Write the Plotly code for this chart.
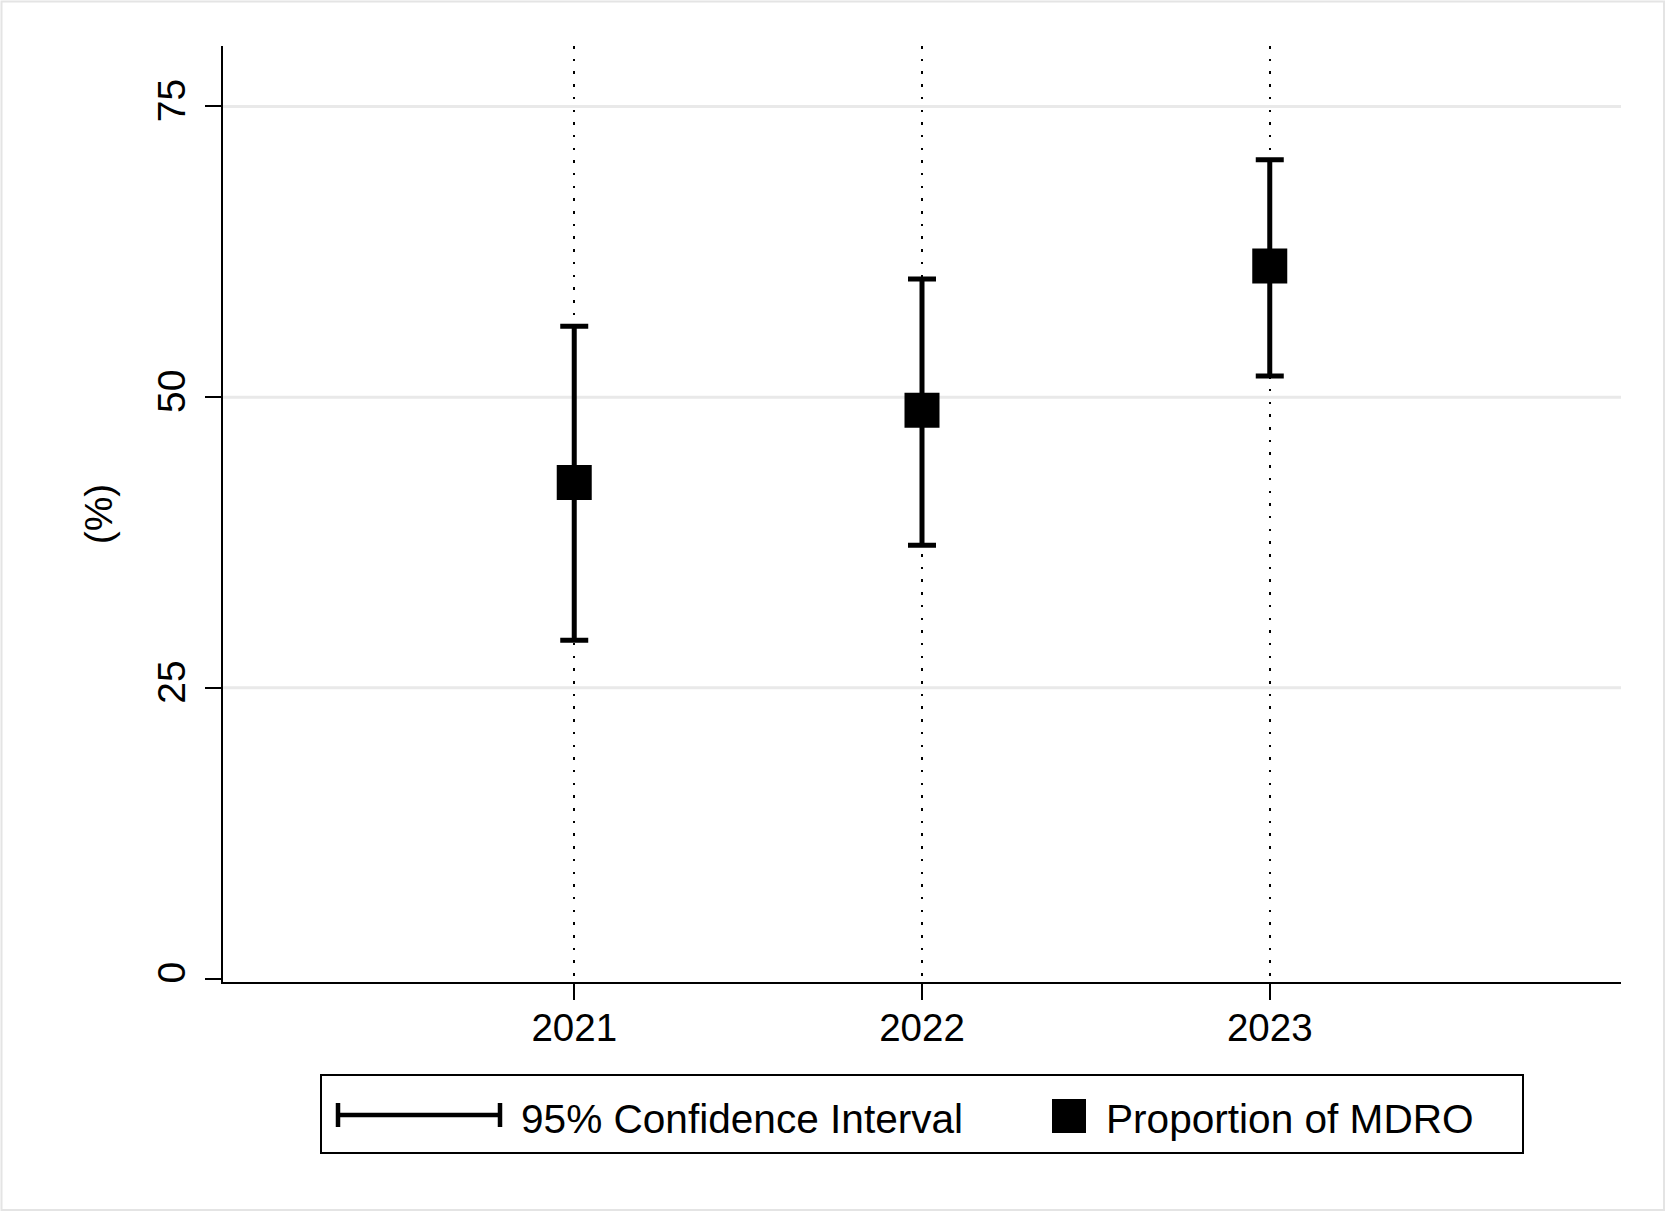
import plotly.graph_objects as go

# ---- data ----
years = [2021, 2022, 2023]
year_labels = ["2021", "2022", "2023"]
proportion = [42.65, 48.87, 61.27]
ci_lower = [29.09, 37.26, 51.81]
ci_upper = [56.09, 60.17, 70.42]
y_ticks = [0, 25, 50, 75]
y_tick_labels = ["0", "25", "50", "75"]
grid_vals = [25, 50, 75]
legend_labels = ["95% Confidence Interval", "Proportion of MDRO"]
y_title = "(%)"

# ---- layout geometry (pixels) ----
W, H = 1667, 1213
L, R, T, B = 223, 46, 46, 231
PW, PH = W - L - R, H - T - B


def px(x):
    return (x - L) / PW


def py(y):
    return (H - B - y) / PH


FONT = "Liberation Sans, Arial, Helvetica, sans-serif"

fig = go.Figure()
fig.add_trace(go.Scatter(
    x=years, y=proportion, mode="markers",
    marker=dict(symbol="square", size=35, color="black", line=dict(width=0)),
    error_y=dict(type="data", symmetric=False,
                 array=[u - m for u, m in zip(ci_upper, proportion)],
                 arrayminus=[m - l for m, l in zip(proportion, ci_lower)],
                 color="black", thickness=5, width=14),
    showlegend=False, hoverinfo="skip"))

# light horizontal gridlines
for v in grid_vals:
    fig.add_hline(y=v, line=dict(color="#e9e9e9", width=3), layer="below")

shapes = []
# legend box
shapes.append(dict(type="rect", xref="paper", yref="paper",
                   x0=px(321), x1=px(1523), y0=py(1153), y1=py(1075),
                   line=dict(color="black", width=2), fillcolor="rgba(0,0,0,0)"))
# legend CI symbol
shapes.append(dict(type="line", xref="paper", yref="paper",
                   x0=px(338), x1=px(500), y0=py(1115), y1=py(1115),
                   line=dict(color="black", width=4.5)))
for cx in (338, 500):
    shapes.append(dict(type="line", xref="paper", yref="paper",
                       x0=px(cx), x1=px(cx), y0=py(1103), y1=py(1127),
                       line=dict(color="black", width=4.5)))
# legend square
shapes.append(dict(type="rect", xref="paper", yref="paper",
                   x0=px(1052), x1=px(1086), y0=py(1133), y1=py(1099),
                   line=dict(width=0), fillcolor="black"))
# faint outer border
shapes.append(dict(type="rect", xref="paper", yref="paper",
                   x0=px(1.5), x1=px(W - 3), y0=py(H - 3), y1=py(1.5),
                   line=dict(color="#e4e4e4", width=2), layer="below"))
for s in shapes:
    fig.add_shape(**s)

fig.add_annotation(text=legend_labels[0], xref="paper", yref="paper",
                   x=px(519), y=py(1119), xanchor="left", yanchor="middle",
                   showarrow=False, font=dict(family=FONT, size=40.6, color="black"))
fig.add_annotation(text=legend_labels[1], xref="paper", yref="paper",
                   x=px(1104), y=py(1119), xanchor="left", yanchor="middle",
                   showarrow=False, font=dict(family=FONT, size=40.6, color="black"))

fig.update_layout(
    width=W, height=H,
    margin=dict(l=L, r=R, t=T, b=B, autoexpand=False),
    paper_bgcolor="white", plot_bgcolor="white",
    font=dict(family=FONT, color="black"),
    showlegend=False, hovermode=False,
    xaxis=dict(range=[2019.99, 2024.01], tickmode="array", tickvals=years,
               ticktext=year_labels, tickfont=dict(size=38.5),
               ticklabelstandoff=-5,
               showgrid=True, gridcolor="black", gridwidth=2, griddash="2.5px,10.2px",
               showline=True, linecolor="black", linewidth=2,
               ticks="outside", ticklen=16, tickwidth=2, tickcolor="black",
               zeroline=False, fixedrange=True),
    yaxis=dict(range=[-0.3, 80.2], tickmode="array", tickvals=y_ticks,
               ticktext=y_tick_labels, tickangle=-90, tickfont=dict(size=39),
               ticklabelstandoff=4,
               showgrid=False, showline=True, linecolor="black", linewidth=2,
               ticks="outside", ticklen=16, tickwidth=2, tickcolor="black",
               zeroline=False, fixedrange=True,
               title=dict(text=y_title, font=dict(size=39), standoff=26)),
)

fig.write_html("out.html", config={"displayModeBar": False, "staticPlot": True},
               post_script="document.body.style.margin='0';document.body.style.padding='0';")
